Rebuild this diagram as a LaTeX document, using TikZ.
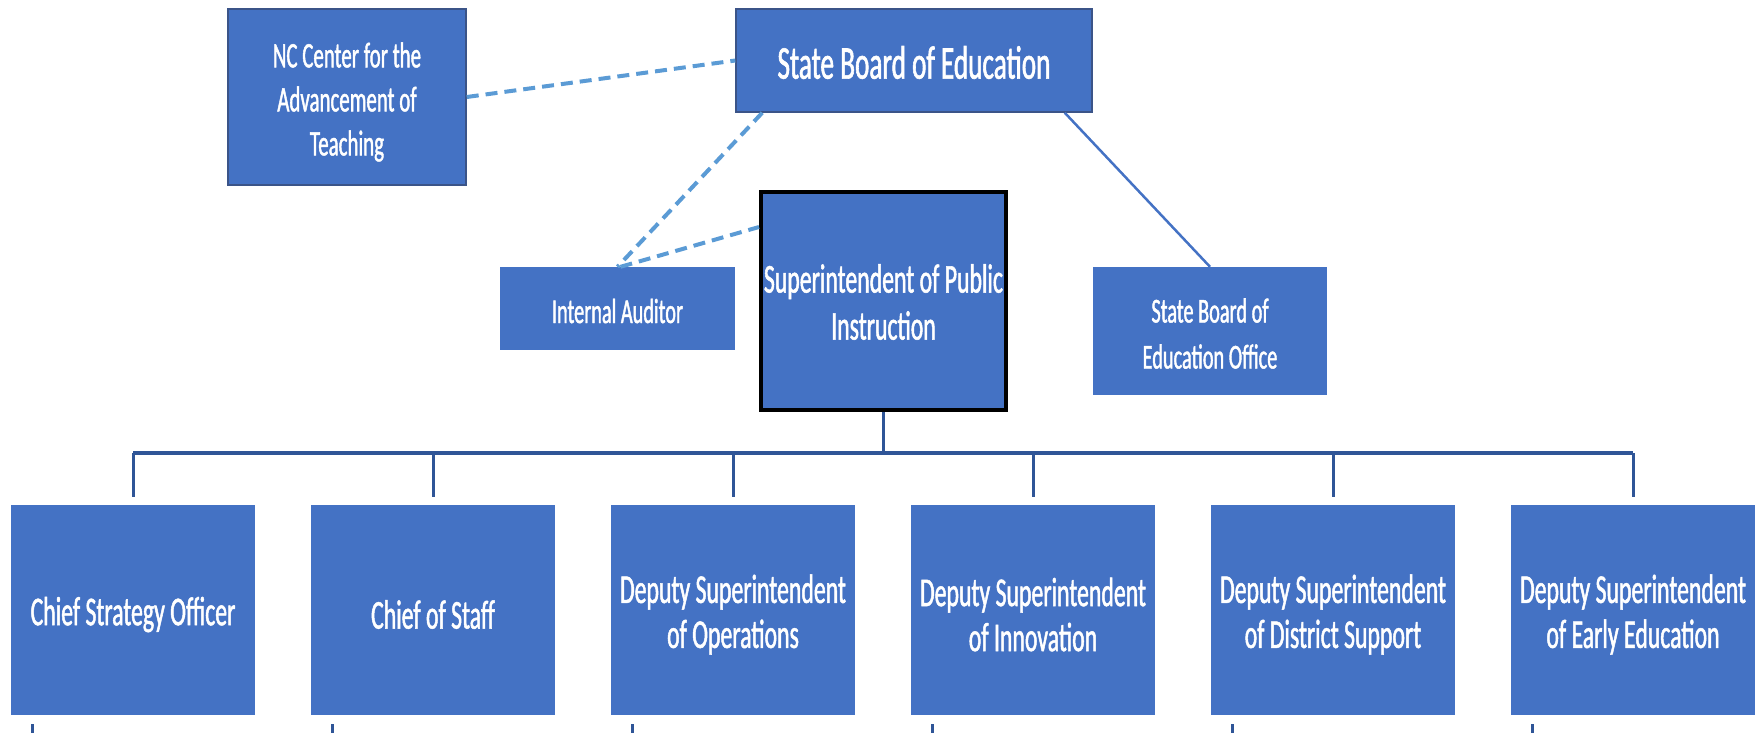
\documentclass[tikz,border=0pt]{standalone}
\usepackage{fontspec}
\newfontfamily\boxfont{Carlito}[FakeStretch=0.58, FakeBold=1.2]
\definecolor{boxblue}{HTML}{4472C4}
\definecolor{edgeblue}{HTML}{3B5488}
\definecolor{dashblue}{HTML}{5B9BD5}
\definecolor{treeblue}{HTML}{2F5597}
\tikzset{
  orgbox/.style={rectangle, fill=boxblue, inner sep=0pt},
  topbox/.style={orgbox, draw=edgeblue, line width=1.5pt},
  lowbox/.style={orgbox, minimum width=244pt, minimum height=210pt},
  boxtext/.style={text=white, inner sep=0pt, align=center, font=\boxfont},
  lowtext/.style={boxtext, font=\boxfont\fontsize{41}{45}\selectfont},
  dashlink/.style={draw=dashblue, dash pattern=on 12pt off 7pt, line width=4pt},
  solidlink/.style={draw=boxblue, line width=2.5pt},
  treelink/.style={draw=treeblue, line width=3pt}
}
\begin{document}
\begin{tikzpicture}[x=1pt, y=-1pt]
\useasboundingbox (0,0) rectangle (1760,732);
% top level boxes
\node[topbox, minimum width=238pt, minimum height=176pt] (nc) at (347,97) {};
\node[boxtext, font=\boxfont\fontsize{36}{44}\selectfont] (nctext) at ([yshift=-5pt]nc.center) {NC Center for the\\Advancement of\\Teaching};
\node[topbox, minimum width=356pt, minimum height=103pt] (sbe) at (914,60.5) {};
\node[boxtext, font=\boxfont\fontsize{47}{52}\selectfont] (sbetext) at ([yshift=-2pt]sbe.center) {State Board of Education};
\node[orgbox, minimum width=235pt, minimum height=83pt] (ia) at (617.5,308.5) {};
\node[boxtext, font=\boxfont\fontsize{35}{44}\selectfont] (iatext) at ([yshift=-2.5pt]ia.center) {Internal Auditor};
\node[orgbox, draw=black, line width=4pt, minimum width=245pt, minimum height=218pt] (supt) at (883.5,301) {};
\node[boxtext, font=\boxfont\fontsize{41}{47}\selectfont] (supttext) at ([yshift=-1pt]supt.center) {Superintendent of Public\\Instruction};
\node[orgbox, minimum width=234pt, minimum height=128pt] (sbeo) at (1210,331) {};
\node[boxtext, font=\boxfont\fontsize{35}{46}\selectfont] (sbeotext) at ([yshift=-2.5pt]sbeo.center) {State Board of\\Education Office};
% bottom level boxes
\node[lowbox] (b1) at (133,610) {};
\node[lowbox] (b2) at (433,610) {};
\node[lowbox] (b3) at (733,610) {};
\node[lowbox] (b4) at (1033,610) {};
\node[lowbox] (b5) at (1333,610) {};
\node[lowbox] (b6) at (1633,610) {};
\node[lowtext] (b1text) at ([yshift=-4.5pt]b1.center) {Chief Strategy Officer};
\node[lowtext] (b2text) at ([yshift=-4.5pt]b2.center) {Chief of Staff};
\node[lowtext] (b3text) at ([yshift=-4.5pt]b3.center) {Deputy Superintendent\\of Operations};
\node[lowtext] (b4text) at ([yshift=-4.5pt]b4.center) {Deputy Superintendent\\of Innovation};
\node[lowtext] (b5text) at ([yshift=-4.5pt]b5.center) {Deputy Superintendent\\of District Support};
\node[lowtext] (b6text) at ([yshift=-4.5pt]b6.center) {Deputy Superintendent\\of Early Education};
% links among top boxes
\draw[dashlink] (nc.east) -- (sbe.west);
\draw[dashlink] ([xshift=27pt]sbe.south west) -- (ia.north);
\draw[dashlink] ([xshift=3pt]ia.north) -- ([yshift=-37pt]supt.north west);
\draw[solidlink] ([xshift=-28pt]sbe.south east) -- (sbeo.north);
% tree
\coordinate (busL) at (133,453);
\coordinate (busR) at (1633,453);
\draw[treelink] (supt.south) -- (supt.south |- busL);
\draw[treelink, line width=4.5pt] (busL) -- (busR);
\foreach \b in {b1,b2,b3,b4,b5,b6}{
  \draw[treelink] (\b.north |- busL) -- ([yshift=8pt]\b.north);
  \coordinate (\b tick) at ([xshift=22pt,yshift=-9pt]\b.south west);
  \draw[treelink] (\b tick) -- ++(0,12);
}
\end{tikzpicture}
\end{document}
